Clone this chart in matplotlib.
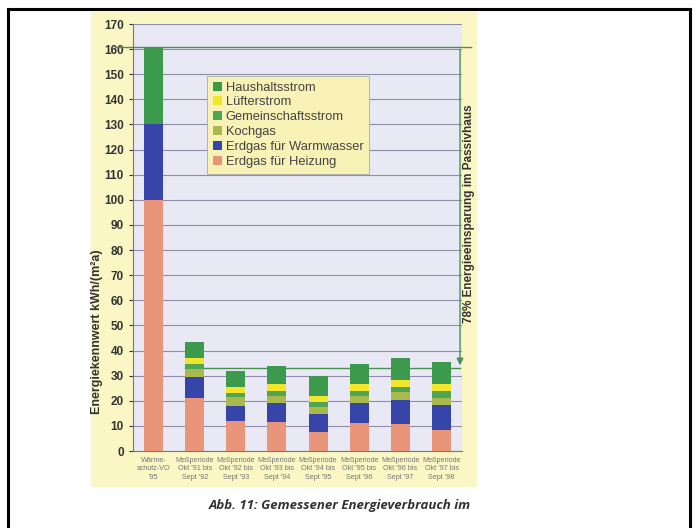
import numpy as np
import matplotlib
matplotlib.use('Agg')
import matplotlib.pyplot as plt
from matplotlib.patches import Rectangle
from matplotlib.lines import Line2D

plt.rcParams['font.family'] = ['Liberation Sans', 'DejaVu Sans']

# categories on the x axis
periods = ["Wärme-\nschutz-VO\n'95",
           "Meßperiode\nOkt '91 bis\nSept '92",
           "Meßperiode\nOkt '92 bis\nSept '93",
           "Meßperiode\nOkt '93 bis\nSept '94",
           "Meßperiode\nOkt '94 bis\nSept '95",
           "Meßperiode\nOkt '95 bis\nSept '96",
           "Meßperiode\nOkt '96 bis\nSept '97",
           "Meßperiode\nOkt '97 bis\nSept '98"]

# energy values in kWh/(m²a), stacked from bottom to top
heizung = [100.0, 21.0, 11.9, 11.5, 7.5, 11.1, 10.8, 8.4]
warmwasser = [30.0, 8.3, 6.1, 7.6, 7.3, 8.1, 9.6, 9.8]
kochgas = [0.0, 3.3, 3.5, 2.8, 2.9, 2.7, 3.0, 3.0]
gemeinschaft = [0.0, 2.0, 1.6, 2.0, 1.8, 2.0, 2.1, 2.5]
luefter = [0.0, 2.3, 2.4, 2.7, 2.6, 2.7, 2.9, 2.8]
haushalt = [31.0, 6.6, 6.5, 7.3, 7.9, 8.0, 8.7, 8.9]

ref_level = 161
passiv_level = 33

series = [('Erdgas für Heizung', heizung, '#E8957A'),
          ('Erdgas für Warmwasser', warmwasser, '#3845A8'),
          ('Kochgas', kochgas, '#A9B94C'),
          ('Gemeinschaftsstrom', gemeinschaft, '#4EA552'),
          ('Lüfterstrom', luefter, '#F3E52A'),
          ('Haushaltsstrom', haushalt, '#3C9A4C')]

fig = plt.figure(figsize=(6.98, 5.28), dpi=100)
fig.patch.set_facecolor('white')

# pale yellow panel behind the chart
fig.patches.append(Rectangle((0.130, 0.078), 0.553, 0.900, transform=fig.transFigure,
                             facecolor='#FBF7C4', edgecolor='none', zorder=-10))
# black frame
for xs, ys in [([0.012, 0.012], [0.0, 0.983]), ([0.012, 0.988], [0.983, 0.983]),
               ([0.988, 0.988], [0.0, 0.983])]:
    fig.lines.append(Line2D(xs, ys, transform=fig.transFigure, color='black', lw=2.2))

ax = fig.add_axes([0.1905, 0.1458, 0.4715, 0.8087])
ax.set_facecolor('#E9E9F5')

x = np.arange(len(periods))
bottom = np.zeros(len(periods))
handles = {}
for name, vals, col in series:
    b = ax.bar(x, vals, 0.46, bottom=bottom, color=col, zorder=3, label=name)
    handles[name] = b
    bottom += np.array(vals)

ax.set_xlim(-0.5, 7.5)
ax.set_ylim(0, 170)
ax.set_yticks(range(0, 171, 10))
ax.yaxis.grid(True, color='#8E8EA6', lw=0.8, zorder=1)
ax.set_axisbelow(True)
ax.set_xticks(x)
ax.set_xticklabels(periods, fontsize=5.2, color='#777777', linespacing=1.35)
ax.tick_params(axis='x', length=0, pad=4)
ax.tick_params(axis='y', labelsize=8.5, colors='#333333', length=3, width=0.8)
for lab in ax.get_yticklabels():
    lab.set_fontweight('bold')
for s in ['top', 'right']:
    ax.spines[s].set_visible(False)
for s in ['left', 'bottom']:
    ax.spines[s].set_color('#777777')

ax.set_ylabel('Energiekennwert kWh/(m²a)', fontsize=9, fontweight='bold', color='#333333')
ax.yaxis.set_label_coords(-0.09, 0.28)

# savings marker: reference level, measured level and arrow between them
green = '#4B8F52'
ax.plot([-0.94, 7.72], [ref_level, ref_level], color=green, lw=1.0, clip_on=False, zorder=4)
ax.plot([0.77, 7.45], [passiv_level, passiv_level], color=green, lw=1.0, zorder=2)
ax.annotate('', xy=(7.45, passiv_level), xytext=(7.45, ref_level),
            arrowprops=dict(arrowstyle='-|>', color=green, lw=1.0, mutation_scale=10),
            zorder=4, annotation_clip=False)
ax.text(7.68, 94.5, '78% Energieeinsparung im Passivhaus', rotation=90, ha='center',
        va='center', fontsize=8.5, fontweight='bold', color='#333333', clip_on=False)

order = ['Haushaltsstrom', 'Lüfterstrom', 'Gemeinschaftsstrom', 'Kochgas',
         'Erdgas für Warmwasser', 'Erdgas für Heizung']
leg = ax.legend([handles[n] for n in order], order, loc='upper left',
                bbox_to_anchor=(0.225, 0.879), borderaxespad=0, fontsize=9.3,
                handlelength=0.7, handleheight=0.7, handletextpad=0.3,
                labelspacing=0.22, borderpad=0.45, fancybox=False, framealpha=1)
leg.get_frame().set_facecolor('#F8F2B6')
leg.get_frame().set_edgecolor('#AAAAAA')
leg.get_frame().set_linewidth(0.6)
for t in leg.get_texts():
    t.set_color('#444444')

fig.text(0.487, 0.043, 'Abb. 11: Gemessener Energieverbrauch im', ha='center', va='center',
         fontsize=9.5, fontweight='bold', style='italic', color='#333333', family='Open Sans')

fig.savefig('out.png', dpi=100)
